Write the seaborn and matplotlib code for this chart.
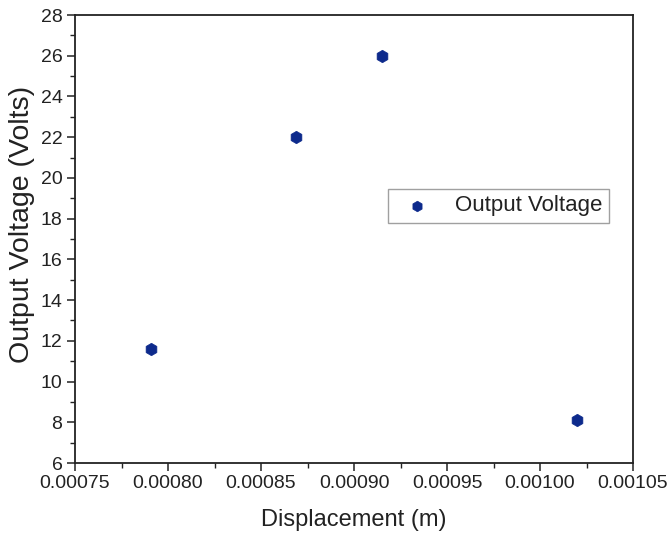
import matplotlib
matplotlib.use("Agg")
import matplotlib.pyplot as plt
from matplotlib.ticker import AutoMinorLocator
import seaborn as sns
import pandas as pd

# Measured output voltage for each displacement
displacement = [0.000791, 0.000869, 0.000915, 0.00102]
voltage = [11.6, 22.0, 26.0, 8.1]

x_ticks = [0.00075, 0.00080, 0.00085, 0.00090, 0.00095, 0.00100, 0.00105]
x_tick_labels = ["0.00075", "0.00080", "0.00085", "0.00090", "0.00095", "0.00100", "0.00105"]
y_ticks = [6, 8, 10, 12, 14, 16, 18, 20, 22, 24, 26, 28]

df = pd.DataFrame({"Displacement (m)": displacement, "Output Voltage (Volts)": voltage})

sns.set_style("white")
plt.rcParams["font.family"] = ["Liberation Sans", "DejaVu Sans"]

fig = plt.figure(figsize=(6.69, 5.36), dpi=100)
ax = fig.add_axes([75 / 669, 1 - 463 / 536, 558 / 669, 448 / 536])

sns.scatterplot(data=df, x="Displacement (m)", y="Output Voltage (Volts)", ax=ax,
                marker="h", s=80, color="#0d2a8c", edgecolor="#0d2a8c",
                linewidth=0.5, label="Output Voltage", zorder=3)

ax.set_xlim(0.00075, 0.00105)
ax.set_ylim(6, 28)
ax.set_xticks(x_ticks)
ax.set_xticklabels(x_tick_labels)
ax.set_yticks(y_ticks)
ax.xaxis.set_minor_locator(AutoMinorLocator(2))
ax.yaxis.set_minor_locator(AutoMinorLocator(2))

for side in ["left", "bottom", "top", "right"]:
    ax.spines[side].set_color("#222222")
    ax.spines[side].set_linewidth(1.3)

ax.tick_params(axis="both", which="major", direction="out", length=6, width=1.1,
               color="#222222", labelsize=14, labelcolor="#222222", pad=3,
               bottom=True, left=True, top=False, right=False)
ax.tick_params(axis="both", which="minor", direction="out", length=3.5, width=1.0,
               color="#222222", bottom=True, left=True, top=False, right=False)

ax.set_xlabel("Displacement (m)", fontsize=17, color="#222222", labelpad=12)
ax.set_ylabel("Output Voltage (Volts)", fontsize=20.5, color="#222222")
ax.yaxis.set_label_coords(-0.072, 0.533)

leg = ax.legend(loc="center left", bbox_to_anchor=(0.561, 0.574), frameon=True,
                fancybox=False, fontsize=16, borderpad=0.3, handletextpad=0.7,
                handlelength=2.0, markerscale=0.85, borderaxespad=0)
leg.get_frame().set_edgecolor("#888888")
leg.get_frame().set_linewidth(1.0)
for t in leg.get_texts():
    t.set_color("#222222")

fig.savefig("out.png", dpi=100, facecolor="white")
